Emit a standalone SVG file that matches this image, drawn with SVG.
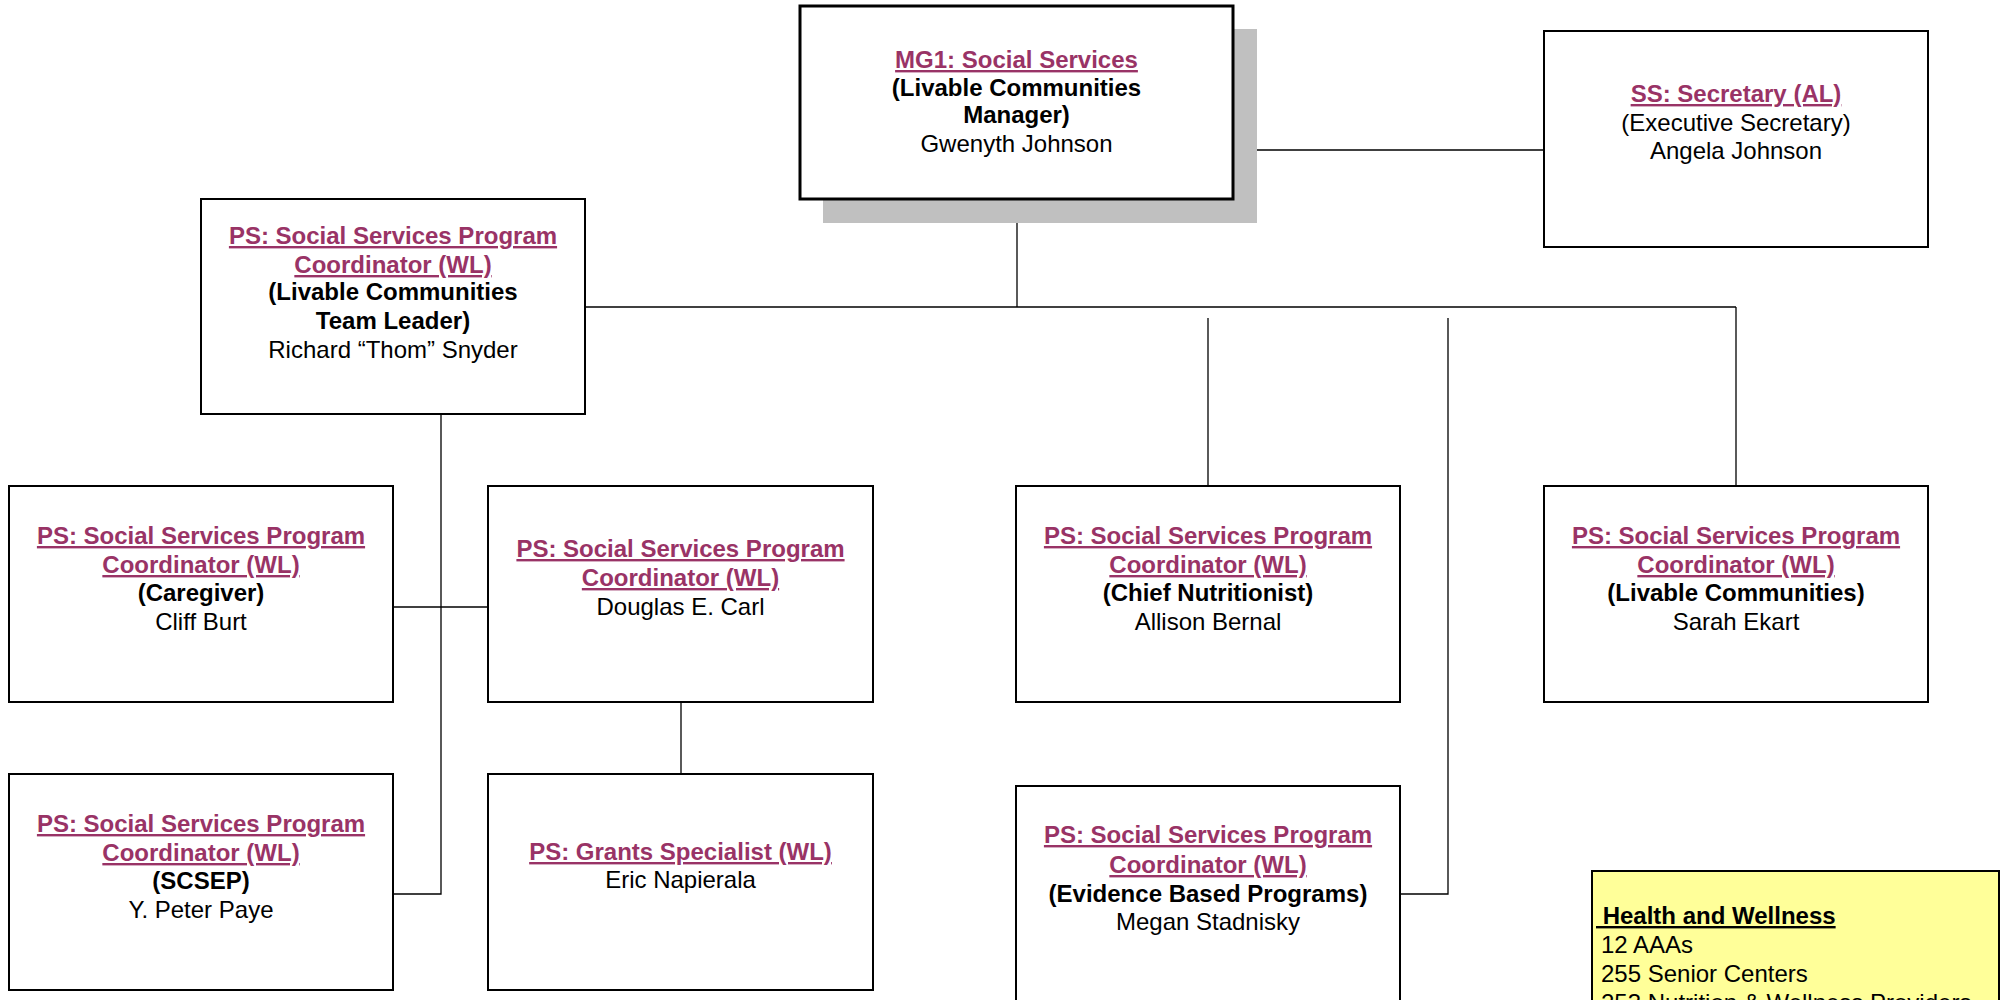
<svg xmlns="http://www.w3.org/2000/svg" width="2007" height="1000" viewBox="0 0 2007 1000">
<style>
.box{fill:#fff;stroke:#000;stroke-width:2}
.mgr{fill:#fff;stroke:#000;stroke-width:3}
.shadow{fill:#c0c0c0}
.note{fill:#ffff99;stroke:#000;stroke-width:2}
text{font-family:"Liberation Sans",Arial,sans-serif;font-size:24px}
.c{text-anchor:middle}
.t{fill:#993366;font-weight:bold;text-decoration:underline}
.b{font-weight:bold;fill:#000}
.n{fill:#000}
.conn line,.conn polyline{stroke:#000;stroke-width:1.3;fill:none}
</style>
<g class="conn" id="connectors">
<line x1="1233" y1="150" x2="1544" y2="150"/>
<line x1="1017" y1="199" x2="1017" y2="307"/>
<line x1="585" y1="307" x2="1736" y2="307"/>
<line x1="1736" y1="307" x2="1736" y2="486"/>
<line x1="1208" y1="318" x2="1208" y2="486"/>
<polyline points="1448,318 1448,894 1400,894"/>
<polyline points="441,414 441,894 393,894"/>
<line x1="393" y1="607" x2="488" y2="607"/>
<line x1="681" y1="702" x2="681" y2="774"/>
</g>
<g id="mg1">
<rect class="shadow" x="823" y="29" width="434" height="194"/>
<rect class="mgr" x="800" y="6" width="433" height="193"/>
<text class="c t" x="1016.5" y="68">MG1: Social Services</text>
<text class="c b" x="1016.5" y="96">(Livable Communities</text>
<text class="c b" x="1016.5" y="123">Manager)</text>
<text class="c n" x="1016.5" y="152">Gwenyth Johnson</text>
</g>
<g id="ss">
<rect class="box" x="1544" y="31" width="384" height="216"/>
<text class="c t" x="1736" y="102">SS: Secretary (AL)</text>
<text class="c n" x="1736" y="131">(Executive Secretary)</text>
<text class="c n" x="1736" y="159">Angela Johnson</text>
</g>
<g id="teamleader">
<rect class="box" x="201" y="199" width="384" height="215"/>
<text class="c t" x="393" y="244">PS: Social Services Program</text>
<text class="c t" x="393" y="273">Coordinator (WL)</text>
<text class="c b" x="393" y="300">(Livable Communities</text>
<text class="c b" x="393" y="329">Team Leader)</text>
<text class="c n" x="393" y="358">Richard “Thom” Snyder</text>
</g>
<g id="caregiver">
<rect class="box" x="9" y="486" width="384" height="216"/>
<text class="c t" x="201" y="544">PS: Social Services Program</text>
<text class="c t" x="201" y="573">Coordinator (WL)</text>
<text class="c b" x="201" y="601">(Caregiver)</text>
<text class="c n" x="201" y="630">Cliff Burt</text>
</g>
<g id="douglas">
<rect class="box" x="488" y="486" width="385" height="216"/>
<text class="c t" x="680.5" y="557">PS: Social Services Program</text>
<text class="c t" x="680.5" y="586">Coordinator (WL)</text>
<text class="c n" x="680.5" y="615">Douglas E. Carl</text>
</g>
<g id="scsep">
<rect class="box" x="9" y="774" width="384" height="216"/>
<text class="c t" x="201" y="832">PS: Social Services Program</text>
<text class="c t" x="201" y="861">Coordinator (WL)</text>
<text class="c b" x="201" y="889">(SCSEP)</text>
<text class="c n" x="201" y="918">Y. Peter Paye</text>
</g>
<g id="grants">
<rect class="box" x="488" y="774" width="385" height="216"/>
<text class="c t" x="680.5" y="860">PS: Grants Specialist (WL)</text>
<text class="c n" x="680.5" y="888">Eric Napierala</text>
</g>
<g id="nutrition">
<rect class="box" x="1016" y="486" width="384" height="216"/>
<text class="c t" x="1208" y="544">PS: Social Services Program</text>
<text class="c t" x="1208" y="573">Coordinator (WL)</text>
<text class="c b" x="1208" y="601">(Chief Nutritionist)</text>
<text class="c n" x="1208" y="630">Allison Bernal</text>
</g>
<g id="livable">
<rect class="box" x="1544" y="486" width="384" height="216"/>
<text class="c t" x="1736" y="544">PS: Social Services Program</text>
<text class="c t" x="1736" y="573">Coordinator (WL)</text>
<text class="c b" x="1736" y="601">(Livable Communities)</text>
<text class="c n" x="1736" y="630">Sarah Ekart</text>
</g>
<g id="evidence">
<rect class="box" x="1016" y="786" width="384" height="230"/>
<text class="c t" x="1208" y="843">PS: Social Services Program</text>
<text class="c t" x="1208" y="873">Coordinator (WL)</text>
<text class="c b" x="1208" y="902">(Evidence Based Programs)</text>
<text class="c n" x="1208" y="930">Megan Stadnisky</text>
</g>
<g id="health">
<rect class="note" x="1592" y="871" width="407" height="150"/>
<text class="b" x="1596" y="924" style="text-decoration:underline;white-space:pre" xml:space="preserve"> Health and Wellness</text>
<text class="n" x="1601" y="953">12 AAAs</text>
<text class="n" x="1601" y="982">255 Senior Centers</text>
<text class="n" x="1601" y="1011">253 Nutrition &amp; Wellness Providers</text>
</g>
</svg>
